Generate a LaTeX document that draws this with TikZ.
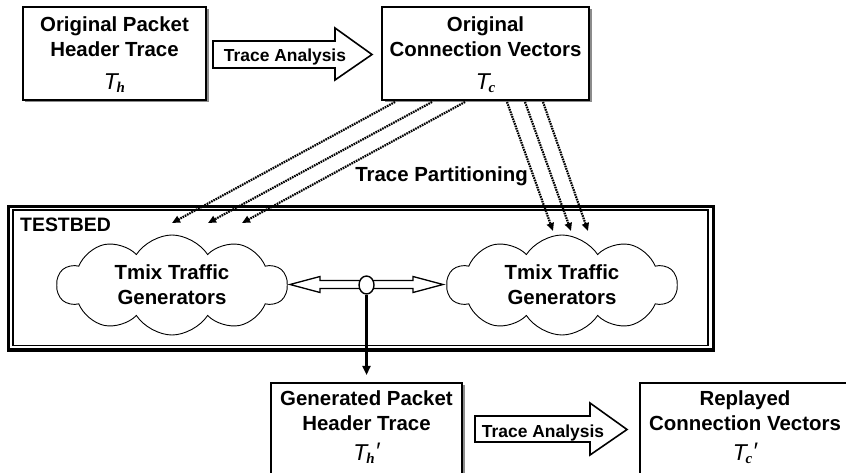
\documentclass[tikz,border=0pt]{standalone}
\usepackage{fontspec}
\setmainfont{Liberation Sans}
\newfontfamily\hfont{Liberation Serif}
\usetikzlibrary{shapes.symbols,shapes.geometric,shadows,arrows.meta,calc}
\newcommand\Tsym[1]{{\fontsize{23}{23}\selectfont\mdseries\itshape T}\kern-1.2bp\raisebox{-3bp}{\fontsize{15}{15}\selectfont\hfont\bfseries\itshape #1}}
\newcommand\prm{\kern0.5bp\raisebox{1bp}{\fontsize{24}{24}\selectfont\mdseries\itshape\symbol{"2032}}}
\begin{document}
\begin{tikzpicture}[x=1bp,y=-1bp,
  box/.style={draw, line width=1.6bp, fill=white, inner sep=0, outer sep=0,
    minimum height=93bp,
    drop shadow={shadow xshift=2.5bp,shadow yshift=-2.5bp,fill=black!45,opacity=1}},
  txt/.style={font=\fontsize{20.5}{25}\selectfont\bfseries, align=center, inner sep=0},
  lbl/.style={font=\fontsize{17.5}{20}\selectfont\bfseries, inner sep=0},
  blockarrow/.style={draw, line width=1.6bp, fill=white, line join=miter},
  cloudnode/.style={cloud, cloud puffs=10, cloud puff arc=115, cloud ignores aspect,
    draw, line width=0.9bp, fill=white, minimum width=230bp, minimum height=100bp,
    inner sep=0, font=\fontsize{20.5}{25}\selectfont\bfseries, align=center},
  dotarrow/.style={line width=2.2bp, dash pattern=on 1.6bp off 0.9bp,
    -{Triangle[length=8bp,width=7bp]}},
]
\useasboundingbox (0,0) rectangle (846,473);
\clip (0,0) rectangle (846,473);

% top boxes
\node[box, minimum width=183bp] (b1) at (114.5,53.5) {};
\node[txt, anchor=north] (b1t) at ([yshift=-10bp]b1.north) {Original Packet\\Header Trace\\[8bp]\Tsym{h}};
\node[box, minimum width=207bp] (b2) at (485.5,53.5) {};
\node[txt, anchor=north] (b2t) at ([yshift=-10bp]b2.north) {Original\\Connection Vectors\\[8bp]\Tsym{c}};

% top block arrow
\draw[blockarrow] (213,41) -- (335,41) -- (335,28) -- (372,54.5) -- (335,80) -- (335,68) -- (213,68) -- cycle;
\node[lbl, anchor=base] (ta1) at (285,62) {Trace Analysis};

% testbed
\node[draw, line width=3.2bp, inner sep=0, outer sep=0, minimum width=704.6bp, minimum height=143.5bp,
  drop shadow={shadow xshift=1.5bp,shadow yshift=-1.5bp,fill=black!40,opacity=1}, fill=white] (tb) at (361,278.25) {};
\node[draw, line width=1.2bp, inner sep=0, outer sep=0, minimum width=695bp, minimum height=135.7bp] (tbin) at (360.5,277.85) {};
\node[font=\fontsize{19.5}{22}\selectfont\bfseries, inner sep=0, anchor=base west] (tbl) at (20,231.7) {TESTBED};

% clouds
\node[cloudnode] (c1) at (172,285) {Tmix Traffic\\Generators};
\node[cloudnode] (c2) at (562,285) {Tmix Traffic\\Generators};

% double arrow and tap
\draw[line width=1.3bp, fill=white, line join=miter] (290,284.5) -- (320,276.5) -- (320,280.5) -- (413,280.5) -- (413,276.5) -- (443,284.5) -- (413,292.5) -- (413,288.5) -- (320,288.5) -- (320,292.5) -- cycle;
\node[draw, ellipse, line width=1.4bp, fill=white, minimum width=15bp, minimum height=18bp, inner sep=0] (ov) at (366.5,285) {};

% partition arrows
\coordinate (s1) at (395,102); \coordinate (e1) at (172,223);
\coordinate (s2) at (432,102); \coordinate (e2) at (208,223);
\coordinate (s3) at (465,102); \coordinate (e3) at (242,223);
\coordinate (s4) at (507,102); \coordinate (e4) at (553,231);
\coordinate (s5) at (525,102); \coordinate (e5) at (571,231);
\coordinate (s6) at (543,102); \coordinate (e6) at (588,231);
\foreach \i in {1,...,6} {\draw[dotarrow] (s\i) -- (e\i);}
\node[font=\fontsize{20.5}{24}\selectfont\bfseries, inner sep=0, anchor=base] (tp) at (441.5,181.7) {Trace Partitioning};

% bottom boxes
\node[box, minimum width=191bp] (b3) at (366.5,429.5) {};
\node[txt, anchor=north] (b3t) at ([yshift=-8bp]b3.north) {Generated Packet\\Header Trace\\[5bp]\Tsym{h}\prm};
\node[box, minimum width=210bp] (b4) at (745,429.5) {};
\node[txt, anchor=north] (b4t) at ([yshift=-8bp]b4.north) {Replayed\\Connection Vectors\\[5bp]\Tsym{c}\prm};

\draw[line width=2.2bp, -{Triangle[length=9bp,width=8bp]}, shorten >=8bp] (ov.south) -- (b3.north);

% bottom block arrow
\draw[blockarrow] (475,416) -- (590,416) -- (590,403) -- (627,429.5) -- (590,455) -- (590,442) -- (475,442) -- cycle;
\node[lbl, anchor=base] (ta2) at (543,437) {Trace Analysis};
\end{tikzpicture}
\end{document}
